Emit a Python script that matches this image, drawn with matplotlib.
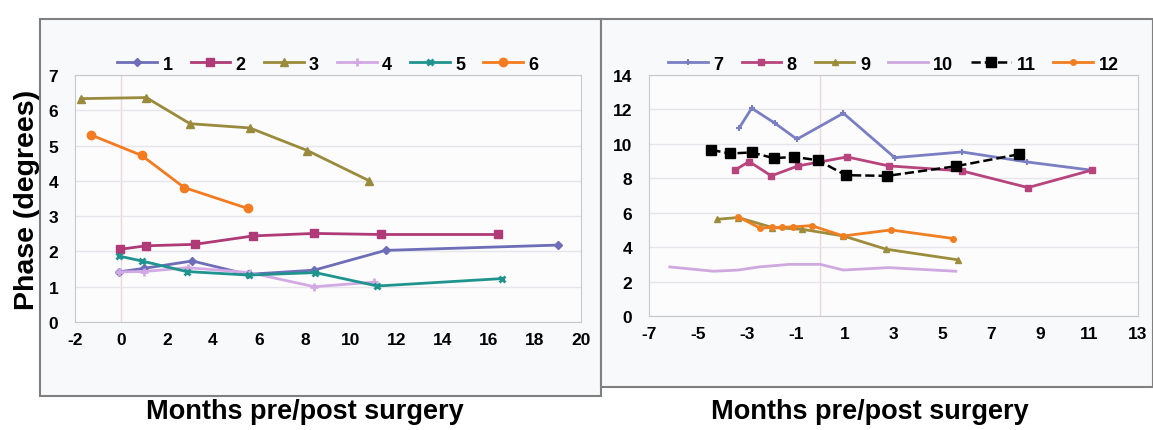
import matplotlib
matplotlib.use("Agg")
import matplotlib.pyplot as plt
from matplotlib.patches import Rectangle

plt.rcParams['font.family'] = ['Liberation Sans', 'DejaVu Sans']
plt.rcParams['axes.unicode_minus'] = False

# left panel: patients 1-6
x1 = [-0.1, 1.0, 3.1, 5.5, 8.4, 11.5, 19.0]
y1 = [1.42, 1.52, 1.73, 1.35, 1.47, 2.03, 2.18]
x2 = [-0.05, 1.1, 3.2, 5.75, 8.4, 11.3, 16.4]
y2 = [2.06, 2.16, 2.2, 2.44, 2.51, 2.48, 2.48]
x3 = [-1.75, 1.1, 3.0, 5.6, 8.1, 10.8]
y3 = [6.33, 6.36, 5.62, 5.5, 4.86, 4.0]
x4 = [-0.1, 1.0, 2.9, 5.6, 8.4, 11.0]
y4 = [1.42, 1.43, 1.54, 1.4, 1.0, 1.13]
x5 = [-0.1, 0.9, 2.85, 5.55, 8.45, 11.15, 16.55]
y5 = [1.87, 1.73, 1.43, 1.33, 1.4, 1.02, 1.23]
x6 = [-1.3, 0.9, 2.75, 5.5]
y6 = [5.3, 4.72, 3.81, 3.22]

# right panel: patients 7-12
x7 = [-3.3, -2.8, -1.85, -0.95, 0.95, 3.05, 5.8, 8.45, 11.1]
y7 = [10.95, 12.07, 11.2, 10.27, 11.78, 9.2, 9.53, 8.95, 8.47]
x8 = [-3.5, -2.9, -2.0, -0.9, 1.1, 2.8, 5.8, 8.5, 11.1]
y8 = [8.47, 8.97, 8.14, 8.72, 9.24, 8.72, 8.43, 7.46, 8.47]
x9 = [-4.2, -3.35, -1.95, -0.75, 0.95, 2.7, 5.65]
y9 = [5.62, 5.72, 5.14, 5.04, 4.65, 3.88, 3.26]
x10 = [-6.15, -4.35, -3.35, -2.5, -1.25, 0.0, 0.95, 2.8, 5.55]
y10 = [2.85, 2.6, 2.67, 2.85, 3.0, 3.0, 2.67, 2.81, 2.6]
x11 = [-4.45, -3.7, -2.8, -1.9, -1.05, -0.1, 1.05, 2.75, 5.55, 8.15]
y11 = [9.65, 9.44, 9.5, 9.17, 9.24, 9.05, 8.18, 8.14, 8.7, 9.4]
x12 = [-3.35, -2.45, -1.95, -1.55, -1.1, -0.35, 0.95, 2.9, 5.45]
y12 = [5.76, 5.1, 5.15, 5.15, 5.18, 5.25, 4.65, 5.0, 4.5]

fig = plt.figure(figsize=(11.53, 4.31), dpi=100, facecolor='white')

# outer boxes round each panel
fig.patches.append(Rectangle((40/1153, 1-397/431), 561/1153, 377/431, transform=fig.transFigure,
                             facecolor='#f8f9fb', edgecolor='#808080', lw=1.5, zorder=-5))
fig.patches.append(Rectangle((601/1153, 1-388/431), 552/1153, 368/431, transform=fig.transFigure,
                             facecolor='#f8f9fb', edgecolor='#808080', lw=1.5, zorder=-5))

axL = fig.add_axes([75/1153, 1-323/431, 506/1153, 247/431])
axR = fig.add_axes([649/1153, 1-317/431, 489/1153, 241/431])
axL.set_zorder(2)
axR.set_zorder(2)

def style(ax):
    ax.set_facecolor('#fcfcfd')
    for s in ax.spines.values():
        s.set_color('#c8c8c8')
    ax.tick_params(length=0, labelsize=12.5)
    ax.tick_params(axis='x', pad=7)
    ax.tick_params(axis='y', pad=12)
    for lab in ax.get_xticklabels() + ax.get_yticklabels():
        lab.set_fontweight('bold')
    ax.yaxis.grid(True, color='#e6e6ea', lw=1)
    ax.set_axisbelow(True)
    ax.axvline(0, color='#ead8dc', lw=1, zorder=0)

axL.plot(x1, y1, color='#6d6db8', marker='D', ms=4, lw=2, label='1')
axL.plot(x2, y2, color='#b03a78', marker='s', ms=6, lw=2, label='2')
axL.plot(x3, y3, color='#9a8a3c', marker='^', ms=6, lw=2, label='3')
axL.plot(x4, y4, color='#d2a9e4', marker='+', ms=6, mew=2, lw=2, label='4')
axL.plot(x5, y5, color='#1f948e', marker='x', ms=5, mew=2, lw=2, label='5')
axL.plot(x6, y6, color='#f47b20', marker='o', ms=6, lw=2, label='6')
axL.set_xlim(-2, 20)
axL.set_ylim(0, 7)
axL.set_xticks(range(-2, 21, 2))
axL.set_yticks(range(0, 8))
style(axL)
axL.set_ylabel('Phase (degrees)', fontsize=20.5, fontweight='bold', labelpad=6)

axR.plot(x7, y7, color='#7a7ec2', marker='+', ms=5, mew=1.5, lw=2, label='7')
axR.plot(x8, y8, color='#b8447e', marker='s', ms=4, lw=2, label='8')
axR.plot(x9, y9, color='#9c8d3c', marker='^', ms=4, lw=2, label='9')
axR.plot(x10, y10, color='#cfa8e0', lw=2, label='10')
axR.plot(x11, y11, color='black', marker='s', ms=7, lw=1.8, ls='--', label='11')
axR.plot(x12, y12, color='#f07f22', marker='o', ms=4, lw=2, label='12')
axR.set_xlim(-7, 13)
axR.set_ylim(0, 14)
axR.set_xticks(range(-7, 14, 2))
axR.set_yticks(range(0, 15, 2))
style(axR)

for ax in (axL, axR):
    ax.legend(loc='lower center', bbox_to_anchor=(0.5, 0.98), ncol=6, frameon=False,
              prop={'weight': 'bold', 'size': 13}, handlelength=2.2, handletextpad=0.3,
              columnspacing=1.0, borderaxespad=0)

fig.text(305/1153, 1-412/431, 'Months pre/post surgery', ha='center', va='center',
         fontsize=19.5, fontweight='bold')
fig.text(870/1153, 1-412/431, 'Months pre/post surgery', ha='center', va='center',
         fontsize=19.5, fontweight='bold')

fig.savefig('out.png', dpi=100, facecolor=fig.get_facecolor())
